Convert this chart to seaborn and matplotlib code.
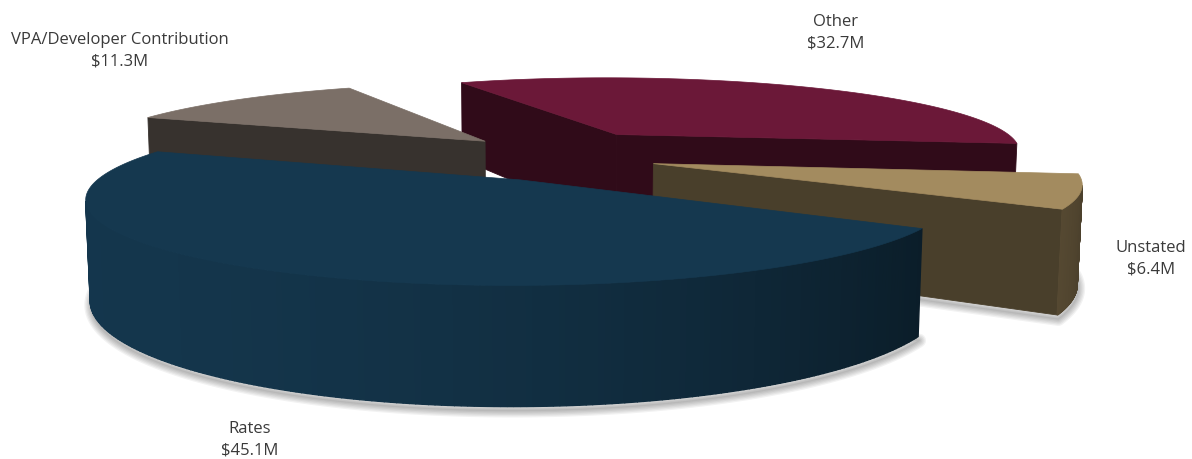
import numpy as np
import matplotlib.pyplot as plt
from matplotlib.patches import Polygon
from matplotlib.colors import to_rgb
import seaborn as sns

# ===== 数据 =====
labels = ["Other", "VPA/Developer Contribution", "Rates", "Unstated"]
values = [32.7, 11.3, 45.1, 6.4]  # $M
top_colors = ["#6B1838", "#7B6F67", "#15384F", "#A38B5F"]
# 各扇区的分离偏移 (圆盘坐标 x, y, z)
explode_xyz = [(0.16, 0.18, 0.012), (-0.175, 0.15, 0.0),
               (-0.08, -0.20, -0.03), (0.24, -0.10, -0.01)]
label_pos = {"Other": (836, 33), "VPA/Developer Contribution": (120, 51),
             "Rates": (250, 440), "Unstated": (1151, 259)}

sns.set_theme(style="white")
plt.rcParams["font.family"] = ["Open Sans", "DejaVu Sans"]

# ===== 透视参数 =====
W, H = 1192, 459
CX, CY = 554, 152
D = 4.8
ELEV = np.radians(10.5)
F = 406 * D
THICK = 0.235
START = -7.3
ce, se = np.cos(ELEV), np.sin(ELEV)
cam = np.array([0.0, -D * ce, D * se])


def proj(p):
    p = np.atleast_2d(p)
    depth = D + p[:, 1] * ce - p[:, 2] * se
    u = p[:, 0] * F / depth
    v = (p[:, 1] * se + p[:, 2] * ce) * F / depth
    return np.column_stack([CX + u, CY - v])


def shade(color, k):
    return tuple(np.clip(np.array(to_rgb(color)) * k, 0, 1))


def visible(normal, point):
    return np.dot(normal, cam - point) > 0


fig = plt.figure(figsize=(W / 100, H / 100), dpi=100)
ax = fig.add_axes([0, 0, 1, 1])
ax.set_xlim(0, W)
ax.set_ylim(H, 0)
ax.axis("off")

spans = np.array(values) / sum(values) * 360
starts = START + np.concatenate([[0], np.cumsum(spans)[:-1]])

slices = []
for i, lab in enumerate(labels):
    a0, a1 = starts[i], starts[i] + spans[i]
    off = np.array(explode_xyz[i], dtype=float)
    b = np.radians((a0 + a1) / 2)
    depth_key = off[1] + 0.5 * np.sin(b)
    slices.append((depth_key, i, a0, a1, off))
slices.sort(key=lambda s: -s[0])

# 阴影 (仅前部扇区)
for _, i, a0, a1, off in slices:
    if off[1] > 0:
        continue
    t = np.radians(np.linspace(a0, a1, 120))
    ring = np.column_stack([np.cos(t), np.sin(t), np.full_like(t, 0)]) + off - [0, 0, THICK]
    pts = proj(np.vstack([off - [0, 0, THICK], ring]))
    for k in range(6):
        ax.add_patch(Polygon(pts + [1, 4], closed=True, facecolor="none",
                             edgecolor="black", lw=1 + k * 1.8, alpha=0.05,
                             joinstyle="round", zorder=1))

z = 2
for _, i, a0, a1, off in slices:
    col = top_colors[i]
    t = np.radians(np.linspace(a0, a1, 240))
    top_ring = np.column_stack([np.cos(t), np.sin(t), np.zeros_like(t)]) + off
    bot_ring = top_ring - [0, 0, THICK]
    apex_t = off.copy()
    apex_b = off - [0, 0, THICK]

    # 径向切面
    for ang, sign in ((a0, 1), (a1, -1)):
        r = np.radians(ang)
        n = sign * np.array([np.sin(r), -np.cos(r), 0.0])
        edge = off + [np.cos(r), np.sin(r), 0.0]
        face = np.vstack([apex_t, edge, edge - [0, 0, THICK], apex_b])
        if visible(n, face.mean(axis=0)):
            ax.add_patch(Polygon(proj(face), closed=True, facecolor=shade(col, 0.45),
                                 edgecolor=shade(col, 0.45), lw=0.6, zorder=z))
            z += 1

    # 外侧曲面
    for k in range(len(t) - 1):
        tm = (t[k] + t[k + 1]) / 2
        n = np.array([np.cos(tm), np.sin(tm), 0.0])
        quad = np.vstack([top_ring[k], top_ring[k + 1], bot_ring[k + 1], bot_ring[k]])
        if visible(n, quad.mean(axis=0)):
            f = 0.97 - 0.52 * ((1 + np.cos(tm)) / 2) ** 2
            c = shade(col, f)
            ax.add_patch(Polygon(proj(quad), closed=True, facecolor=c,
                                 edgecolor=c, lw=1.0, zorder=z))
    z += 1

    # 顶面
    top = proj(np.vstack([apex_t, top_ring]))
    ax.add_patch(Polygon(top, closed=True, facecolor=col, edgecolor=col,
                         lw=0.5, zorder=z))
    z += 1

# ===== 标签 =====
for lab, v in zip(labels, values):
    x, y = label_pos[lab]
    ax.text(x, y, f"{lab}\n${v:.1f}M", ha="center", va="center",
            fontsize=12, color="#3a3a3a", linespacing=1.45, zorder=50)

fig.savefig("out.png", dpi=100)
